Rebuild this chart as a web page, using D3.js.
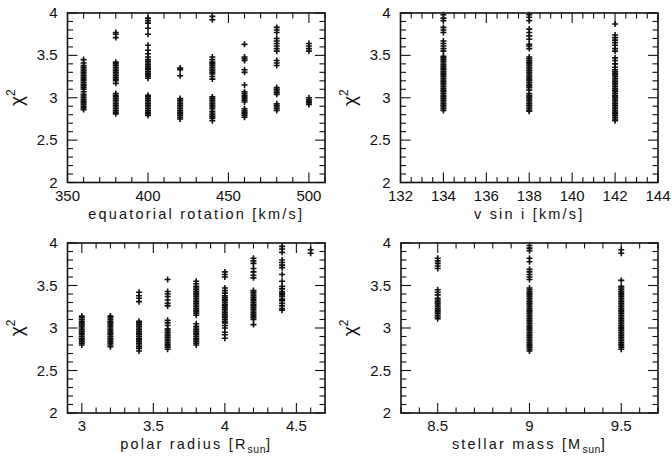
<!DOCTYPE html>
<html>
<head>
<meta charset="utf-8">
<script src="https://cdn.jsdelivr.net/npm/d3@7"></script>
<style>
  html, body { margin: 0; padding: 0; background: #fff; }
  svg { display: block; }
  text { font-family: "Liberation Sans", Arial, Helvetica, sans-serif; fill: #111; }
</style>
</head>
<body>
<svg id="chart" width="672" height="457"></svg>
<script>
// ---------------- DATA ----------------
const chiTicks = [2, 2.5, 3, 3.5, 4];

// Panel 1: equatorial rotation
const rotX = [360, 380, 400, 420, 440, 460, 480, 500];
const rotTicks = [350, 400, 450, 500];
const rotChi2 = [
  [3.45,3.41,3.38,3.36,3.34,3.32,3.30,3.28,3.26,3.24,3.22,3.20,3.18,3.16,3.14,3.12,3.10,3.07,3.04,3.02,3.00,2.98,2.96,2.94,2.92,2.90,2.88,2.86],
  [3.77,3.75,3.71,3.42,3.40,3.38,3.36,3.34,3.32,3.30,3.28,3.26,3.24,3.22,3.20,3.17,3.05,3.03,3.01,2.99,2.97,2.95,2.93,2.91,2.89,2.87,2.85,2.83,2.81],
  [3.94,3.91,3.88,3.82,3.75,3.62,3.56,3.52,3.48,3.45,3.43,3.41,3.39,3.37,3.35,3.33,3.31,3.29,3.27,3.25,3.23,3.03,3.01,2.99,2.97,2.95,2.93,2.91,2.89,2.87,2.85,2.83,2.81,2.79],
  [3.35,3.33,3.26,2.99,2.97,2.95,2.93,2.91,2.89,2.87,2.85,2.83,2.81,2.79,2.77,2.75],
  [3.96,3.92,3.48,3.45,3.42,3.40,3.38,3.36,3.34,3.32,3.30,3.28,3.25,3.22,3.01,2.99,2.97,2.95,2.93,2.91,2.89,2.87,2.84,2.82,2.80,2.78,2.76,2.73],
  [3.63,3.48,3.46,3.44,3.33,3.30,3.15,3.07,3.05,3.03,3.01,2.99,2.97,2.95,2.87,2.85,2.83,2.81,2.79,2.77],
  [3.83,3.80,3.77,3.70,3.67,3.64,3.61,3.58,3.55,3.44,3.41,3.38,3.12,3.10,3.08,3.06,3.04,2.93,2.91,2.89,2.87,2.85],
  [3.64,3.61,3.58,3.55,3.00,2.98,2.96,2.94,2.92]
];

// Panel 2: v sin i
const vsiniX = [134, 138, 142];
const vsiniTicks = [132, 134, 136, 138, 140, 142, 144];
const vsiniChi2 = [
  [3.98,3.94,3.91,3.83,3.80,3.77,3.67,3.64,3.61,3.58,3.55,3.49,3.47,3.45,3.43,3.41,3.39,3.37,3.35,3.33,3.31,3.29,3.27,3.25,3.23,3.21,3.19,3.17,3.15,3.13,3.11,3.09,3.07,3.05,3.03,3.01,2.99,2.97,2.95,2.93,2.91,2.89,2.87,2.85],
  [3.98,3.95,3.91,3.81,3.77,3.73,3.69,3.63,3.61,3.58,3.48,3.46,3.44,3.42,3.40,3.38,3.36,3.34,3.32,3.30,3.28,3.26,3.24,3.22,3.20,3.18,3.16,3.14,3.12,3.09,3.05,3.03,3.01,2.99,2.97,2.95,2.93,2.91,2.89,2.87,2.85,2.84],
  [3.87,3.74,3.71,3.68,3.65,3.62,3.58,3.55,3.47,3.44,3.40,3.36,3.33,3.31,3.29,3.27,3.25,3.23,3.21,3.19,3.17,3.15,3.13,3.11,3.09,3.07,3.05,3.03,3.01,2.99,2.97,2.95,2.93,2.91,2.89,2.87,2.85,2.83,2.81,2.79,2.77,2.75,2.73]
];

// Panel 3: polar radius
const radiusX = [3.0, 3.2, 3.4, 3.6, 3.8, 4.0, 4.2, 4.4, 4.6];
const radiusTicks = [3, 3.5, 4, 4.5];
const radiusChi2 = [
  [3.14,3.12,3.10,3.08,3.06,3.04,3.02,3.00,2.98,2.96,2.94,2.92,2.90,2.88,2.86,2.84,2.82,2.80],
  [3.14,3.12,3.10,3.08,3.06,3.04,3.02,3.00,2.98,2.96,2.94,2.92,2.90,2.88,2.86,2.84,2.82,2.80,2.78],
  [3.42,3.38,3.35,3.31,3.08,3.06,3.04,3.02,3.00,2.98,2.96,2.94,2.92,2.90,2.88,2.86,2.84,2.82,2.80,2.78,2.76,2.73],
  [3.57,3.43,3.40,3.37,3.33,3.29,3.26,3.09,3.06,3.03,2.99,2.97,2.95,2.93,2.91,2.89,2.87,2.85,2.83,2.81,2.79,2.77,2.75],
  [3.55,3.52,3.49,3.47,3.45,3.43,3.41,3.39,3.37,3.35,3.33,3.31,3.29,3.27,3.25,3.23,3.21,3.19,3.17,3.15,3.05,3.02,3.00,2.98,2.96,2.94,2.92,2.90,2.88,2.86,2.84,2.82,2.80],
  [3.66,3.63,3.60,3.47,3.44,3.41,3.38,3.36,3.34,3.32,3.30,3.28,3.26,3.24,3.22,3.20,3.18,3.16,3.14,3.12,3.10,3.08,3.06,3.03,3.00,2.95,2.92,2.88],
  [3.82,3.79,3.76,3.70,3.66,3.62,3.59,3.44,3.42,3.40,3.38,3.36,3.34,3.32,3.30,3.28,3.26,3.24,3.22,3.20,3.18,3.16,3.14,3.12,3.10,3.04],
  [3.96,3.93,3.89,3.80,3.77,3.74,3.71,3.63,3.55,3.49,3.46,3.43,3.41,3.39,3.37,3.34,3.32,3.29,3.26,3.23,3.21],
  [3.92,3.88]
];

// Panel 4: stellar mass
const massX = [8.5, 9.0, 9.5];
const massTicks = [8.5, 9, 9.5];
const massChi2 = [
  [3.82,3.79,3.76,3.73,3.70,3.45,3.42,3.39,3.35,3.33,3.31,3.29,3.27,3.25,3.23,3.21,3.19,3.17,3.15,3.13,3.11],
  [3.97,3.94,3.91,3.82,3.78,3.69,3.66,3.63,3.60,3.57,3.47,3.45,3.43,3.41,3.39,3.37,3.35,3.33,3.31,3.29,3.27,3.25,3.23,3.21,3.19,3.17,3.15,3.13,3.11,3.09,3.07,3.05,3.03,3.01,2.99,2.97,2.95,2.93,2.91,2.89,2.87,2.85,2.83,2.81,2.79,2.77,2.75,2.73],
  [3.92,3.88,3.56,3.49,3.47,3.45,3.43,3.41,3.39,3.37,3.35,3.33,3.31,3.29,3.27,3.25,3.23,3.21,3.19,3.17,3.15,3.13,3.11,3.09,3.07,3.05,3.03,3.01,2.99,2.97,2.95,2.93,2.91,2.89,2.87,2.85,2.83,2.81,2.79,2.77,2.75]
];

// ---------------- LAYOUT ----------------
const panels = [
  { xs: rotX, ys: rotChi2, ticks: rotTicks, domain: [350, 510], minor: 10,
    box: [67.5, 13, 325, 182.5], label: [{t: "equatorial rotation [km/s]"}] },
  { xs: vsiniX, ys: vsiniChi2, ticks: vsiniTicks, domain: [132, 144], minor: 0.5,
    box: [400.5, 13, 658, 182.5], label: [{t: "v  sin  i  [km/s]"}] },
  { xs: radiusX, ys: radiusChi2, ticks: radiusTicks, domain: [2.9, 4.7], minor: 0.1,
    box: [67.5, 243, 325, 413], label: [{t: "polar radius [R"}, {t: "sun", sub: true}, {t: "]"}] },
  { xs: massX, ys: massChi2, ticks: massTicks, domain: [8.3, 9.7], minor: 0.1,
    box: [401, 243, 658, 413], label: [{t: "stellar mass [M"}, {t: "sun", sub: true}, {t: "]"}] }
];

const svg = d3.select("#chart");
const ink = "#111";

panels.forEach(p => {
  const [x0, y0, x1, y1] = p.box;
  const x = d3.scaleLinear().domain(p.domain).range([x0, x1]);
  const y = d3.scaleLinear().domain([2, 4]).range([y1, y0]);
  const g = svg.append("g");

  const eps = 1e-9;
  const xMinor = [];
  for (let v = Math.ceil(p.domain[0] / p.minor - eps) * p.minor; v <= p.domain[1] + eps; v += p.minor) xMinor.push(+v.toFixed(6));
  const yMinor = d3.range(2, 4.0001, 0.1).map(v => +v.toFixed(6));

  const tickG = g.append("g").attr("stroke", ink).attr("stroke-width", 1.1);
  const MAJ = 10, MIN = 5.5;
  xMinor.forEach(v => {
    const isMaj = p.ticks.some(t => Math.abs(t - v) < 1e-6);
    const L = isMaj ? MAJ : MIN;
    tickG.append("line").attr("x1", x(v)).attr("x2", x(v)).attr("y1", y1).attr("y2", y1 - L);
    tickG.append("line").attr("x1", x(v)).attr("x2", x(v)).attr("y1", y0).attr("y2", y0 + L);
  });
  yMinor.forEach(v => {
    const isMaj = chiTicks.some(t => Math.abs(t - v) < 1e-6);
    const L = isMaj ? MAJ : MIN;
    tickG.append("line").attr("y1", y(v)).attr("y2", y(v)).attr("x1", x0).attr("x2", x0 + L);
    tickG.append("line").attr("y1", y(v)).attr("y2", y(v)).attr("x1", x1).attr("x2", x1 - L);
  });

  g.append("rect").attr("x", x0).attr("y", y0).attr("width", x1 - x0).attr("height", y1 - y0)
    .attr("fill", "none").attr("stroke", ink).attr("stroke-width", 1.6);

  p.ticks.forEach(v => {
    g.append("text").attr("x", x(v)).attr("y", y1 + 18).attr("text-anchor", "middle")
      .attr("font-size", 15).text(String(v));
  });
  chiTicks.forEach(v => {
    g.append("text").attr("x", x0 - 10).attr("y", y(v) + 5).attr("text-anchor", "end")
      .attr("font-size", 15).text(String(v));
  });

  const t = g.append("text").attr("x", (x0 + x1) / 2).attr("y", y1 + 36).attr("text-anchor", "middle")
    .attr("font-size", 14.5).attr("letter-spacing", 2.2);
  p.label.forEach(seg => {
    const ts = t.append("tspan").text(seg.t);
    if (seg.sub) ts.attr("font-size", 10.5).attr("dy", 4).attr("letter-spacing", 0.5);
    else if (seg.t === "]") ts.attr("dy", -4);
  });

  const yt = g.append("text").attr("transform", `translate(${x0 - 45},${(y0 + y1) / 2}) rotate(-90)`)
    .attr("text-anchor", "middle").attr("font-size", 19);
  yt.append("tspan").text("χ");
  yt.append("tspan").attr("font-size", 12).attr("dy", -8).text("2");

  const pts = [];
  p.xs.forEach((xv, i) => p.ys[i].forEach(yv => pts.push([xv, yv])));
  g.append("g").attr("stroke", ink).attr("stroke-width", 1.6).attr("fill", "none")
    .selectAll("path").data(pts).join("path")
    .attr("d", d => `M${x(d[0]) - 3},${y(d[1])}H${x(d[0]) + 3}M${x(d[0])},${y(d[1]) - 3}V${y(d[1]) + 3}`);
});
</script>
</body>
</html>
